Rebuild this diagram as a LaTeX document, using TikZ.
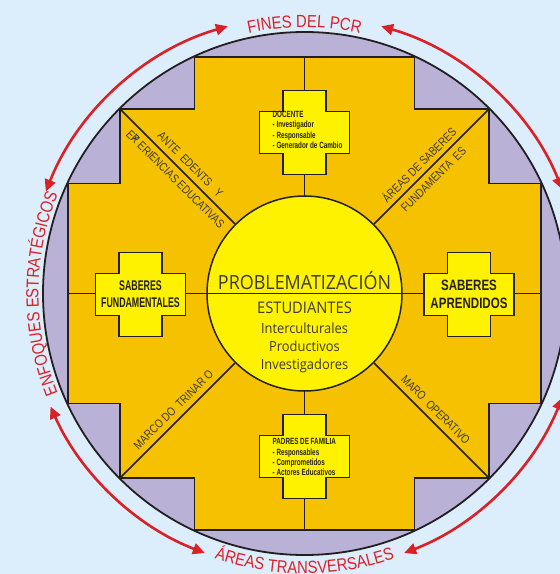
\documentclass[tikz,border=0pt]{standalone}
\usepackage{fontspec}
\setmainfont{Liberation Sans}
\newfontfamily\cruzfont[FakeStretch=0.63]{Liberation Sans}
\newfontfamily\aprenfont[FakeStretch=0.77]{Liberation Sans}
\newfontfamily\listafont[FakeStretch=0.7]{Liberation Sans}
\newfontfamily\diagfont[FakeStretch=0.82]{Liberation Sans}
\newfontfamily\arcofont[FakeStretch=0.85]{Liberation Sans}
\newfontfamily\centrofont[FakeStretch=0.92]{Open Sans}
\usetikzlibrary{arrows.meta,decorations.text,calc}

\definecolor{fondo}{HTML}{DCEEFB}
\definecolor{lila}{HTML}{B9B1D6}
\definecolor{naranja}{HTML}{F6C200}
\definecolor{amarillo}{HTML}{FFF200}
\definecolor{rojo}{HTML}{DA2128}
\definecolor{tinta}{HTML}{231F20}
\definecolor{gris}{HTML}{3A3A3A}

\tikzset{
  cruz/.style={fill=amarillo, draw=tinta, line width=1.6pt},
  eje/.style={draw=tinta, line width=1.5pt},
  diag/.style={font=\diagfont\fontsize{12}{12}\selectfont, text=gris, inner sep=0pt},
  centro/.style={text=gris, inner sep=0pt, anchor=base},
  lista/.style={font=\listafont\bfseries\fontsize{9}{10.3}\selectfont, text=tinta, align=left, inner sep=0pt, anchor=north west},
  flecha/.style={draw=rojo, line width=2.6pt, {Triangle[length=12pt,width=11pt]}-{Triangle[length=12pt,width=11pt]}},
  arco/.style={decorate, decoration={text along path, text align=center, text color=rojo}},
}

% cruz chica centrada en #1
\newcommand{\cruzchica}[1]{%
  \filldraw[cruz] (#1) ++(-21.5,42) -- ++(43,0) -- ++(0,-21) -- ++(23.5,0) -- ++(0,-42)
    -- ++(-23.5,0) -- ++(0,-21) -- ++(-43,0) -- ++(0,21) -- ++(-23.5,0) -- ++(0,42) -- ++(23.5,0) -- cycle;}

\newcommand{\arcotexto}{\arcofont\fontsize{17.5}{18}\selectfont}

\begin{document}
\begin{tikzpicture}[x=1pt,y=1pt]
  \useasboundingbox (-304.5,-280.5) rectangle (255.5,293.5);
  \clip (-304.5,-280.5) rectangle (255.5,293.5);
  \fill[fondo] (-304.5,-280.5) rectangle (255.5,293.5);

  \filldraw[fill=lila, draw=tinta, line width=1.8pt] (0,0) circle[radius=261.5pt];
  \filldraw[fill=naranja, draw=tinta, line width=1.8pt]
    (-110,236.5) -- (110,236.5) -- (110,184.8) -- (184.8,184.8) -- (184.8,110) -- (236.5,110)
    -- (236.5,-110) -- (184.8,-110) -- (184.8,-184.8) -- (110,-184.8) -- (110,-236.5)
    -- (-110,-236.5) -- (-110,-184.8) -- (-184.8,-184.8) -- (-184.8,-110) -- (-236.5,-110)
    -- (-236.5,110) -- (-184.8,110) -- (-184.8,184.8) -- (-110,184.8) -- cycle;

  \coordinate (arriba) at (0,236.5);
  \coordinate (abajo) at (0,-236.5);
  \coordinate (izq) at (-236.5,0);
  \coordinate (der) at (236.5,0);
  \coordinate (esqNO) at (-184.8,184.8);
  \coordinate (esqNE) at (184.8,184.8);
  \coordinate (esqSO) at (-184.8,-184.8);
  \coordinate (esqSE) at (184.8,-184.8);

  \draw[eje] (arriba) -- (abajo);
  \draw[eje] (izq) -- (der);

  \node[circle, minimum size=195pt, inner sep=0pt, fill=amarillo, draw=tinta, line width=1.5pt] (nucleo) at (0,0) {};
  \draw[eje] (nucleo.west) -- (nucleo.east);
  \draw[eje] (esqNO) -- (nucleo);
  \draw[eje] (esqNE) -- (nucleo);
  \draw[eje] (esqSO) -- (nucleo);
  \draw[eje] (esqSE) -- (nucleo);

  \cruzchica{0,161}
  \cruzchica{0,-163}
  \cruzchica{-164,-1}
  \cruzchica{164.5,-1}

  \node[lista] (docente) at (-32,182.5) {DOCENTE\\- Investigador\\- Responsable\\- Generador de Cambio};
  \node[lista] (padres) at (-32,-145) {PADRES DE FAMILIA\\- Responsables\\- Comprometidos\\- Actores Educativos};
  \node[font=\cruzfont\bfseries\fontsize{14}{17}\selectfont, text=tinta, align=center, inner sep=0pt] (fund) at (-164,-1) {SABERES\\FUNDAMENTALES};
  \node[font=\aprenfont\bfseries\fontsize{15}{18}\selectfont, text=tinta, align=center, inner sep=0pt] (apren) at (164.5,-1) {SABERES\\APRENDIDOS};

  \node[centro, font=\centrofont\fontsize{19.5}{20}\selectfont] (prob) at (0,4.5) {PROBLEMATIZACIÓN};
  \node[centro, font=\centrofont\fontsize{16}{16}\selectfont] (estu) at (0,-19.5) {ESTUDIANTES};
  \node[centro, font=\centrofont\fontsize{14}{14}\selectfont] (inter) at (0,-39.5) {Interculturales};
  \node[centro, font=\centrofont\fontsize{14}{14}\selectfont] (prod) at (0,-58.2) {Productivos};
  \node[centro, font=\centrofont\fontsize{14}{14}\selectfont] (inv) at (0,-75.8) {Investigadores};

  \node[diag, rotate=-45] (antecedentes) at ($(135:172)+(45:10.5)$) {ANTE\ \ EDENTS\ \ \ Y};
  \node[diag, rotate=-45] (experiencias) at ($(135:172)+(225:10.5)$) {E\rlap{X}P\ ERIENCIAS EDUCATIVAS};
  \node[diag, rotate=45] (areas) at ($(45:172)+(135:10.5)$) {ÁREAS DE SABERES};
  \node[diag, rotate=45] (fundamentales) at ($(45:172)+(315:10.5)$) {FUNDAMENTA\ \ ES};
  \node[diag, rotate=45] (doctrinario) at ($(225:175)+(135:10.5)$) {MARCO DO\ \ TRINAR O};
  \node[diag, rotate=-45] (operativo) at ($(315:175)+(45:10.5)$) {MARO\ \ OPERATIVO};

  % flechas exteriores
  \draw[flecha] (158.5:278) arc[start angle=158.5, end angle=106, radius=278pt];
  \draw[flecha] (74:278) arc[start angle=74, end angle=22, radius=278pt];
  \draw[flecha] (338:278) arc[start angle=338, end angle=291, radius=278pt];
  \draw[flecha] (249:278) arc[start angle=249, end angle=204, radius=278pt];

  \path[arco, decoration={text={|\arcotexto|FINES DEL PCR}}] (115:266) arc[start angle=115, end angle=65, radius=266pt];
  \path[arco, decoration={text={|\arcotexto|ENFOQUES ESTRATÉGICOS}}] (205:266) arc[start angle=205, end angle=155, radius=266pt];
  \path[arco, decoration={text={|\arcotexto|ÁREAS TRANSVERSALES}}] (245:280) arc[start angle=245, end angle=295, radius=280pt];
\end{tikzpicture}
\end{document}
